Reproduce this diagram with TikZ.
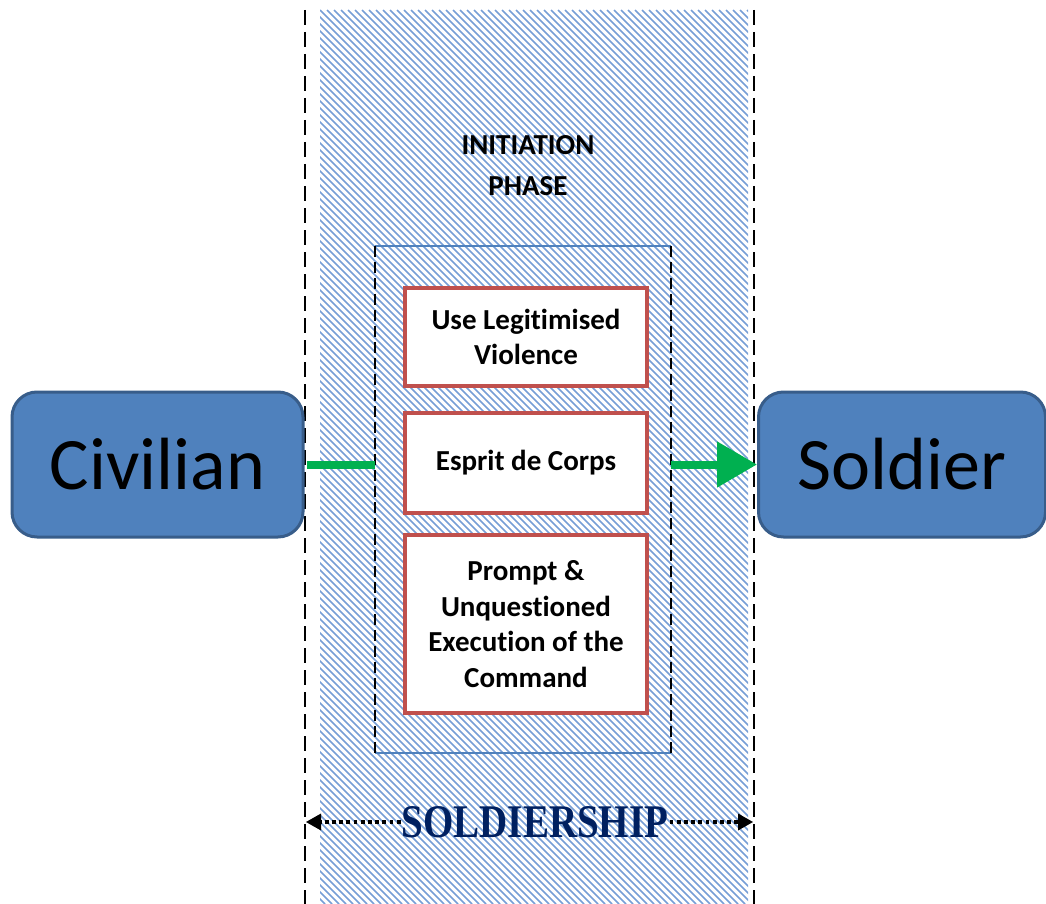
\documentclass[tikz,border=0pt]{standalone}
\usepackage{fontspec}
\usepackage{graphicx}
\setmainfont{Carlito}[Ligatures=NoCommon]
\newfontfamily\titleserif{Liberation Serif}
\usetikzlibrary{arrows.meta}
\definecolor{boxblue}{HTML}{4F81BD}
\definecolor{boxedge}{HTML}{385D8A}
\definecolor{redline}{HTML}{C0504D}
\definecolor{hatch}{RGB}{118,158,214}
\definecolor{arrowgreen}{HTML}{00B050}
\definecolor{navy}{HTML}{002060}
\tikzset{
  endbox/.style={draw=boxedge, line width=3pt, fill=boxblue, rounded corners=25pt,
    font=\fontsize{74}{80}\selectfont, inner sep=0pt},
  stagebox/.style={draw=redline, line width=4.5pt, fill=white, minimum width=242pt,
    align=center, inner sep=0pt, font=\bfseries\fontsize{29}{35.5}\selectfont},
  bandedge/.style={black, line width=2pt, dash pattern=on 15pt off 7pt},
  phaseedge/.style={black, line width=1.6pt, dash pattern=on 11pt off 5pt},
  phaserule/.style={boxblue, line width=1.6pt},
  flow/.style={arrowgreen, line width=8pt},
  span/.style={black, line width=3.8pt, dash pattern=on 3.8pt off 3.4pt,
    -{Triangle[length=15pt,width=17pt,line width=0pt]}},
}
\begin{document}
\begin{tikzpicture}[x=1pt,y=-1pt]
\useasboundingbox (0,0) rectangle (1046,904);

% hatched band
\begin{scope}
  \clip (320,10) rectangle (748,904);
  \foreach \k in {-910,-903,...,440}
    \draw[hatch, line width=1.7pt] (320+\k,10) -- (320+\k+894,904);
\end{scope}

% band borders
\draw[bandedge] (305,10) -- (305,904);
\draw[bandedge] (754,10) -- (754,904);

% phase heading
\node[font=\bfseries\fontsize{29}{41}\selectfont, align=center] (head) at (528,166)
  {INITIATION\\PHASE};

% phase frame
\node[minimum width=296pt, minimum height=507pt, inner sep=0pt] (phase) at (523,499.5) {};
\draw[phaserule] (phase.north west) -- (phase.north east);
\draw[phaserule] (phase.south west) -- (phase.south east);
\draw[phaseedge] (phase.north west) -- ([yshift=-4pt]phase.south west);
\draw[phaseedge] (phase.north east) -- ([yshift=-4pt]phase.south east);

% stages
\node[stagebox, minimum height=98pt] (violence) at (526,337) {Use Legitimised\\Violence};
\node[stagebox, minimum height=100pt] (corps) at (526,463) {Esprit de Corps};
\node[stagebox, minimum height=178pt] (command) at (526,624)
  {Prompt \&\\Unquestioned\\Execution of the\\Command};

% end states
\node[endbox, minimum width=291pt, minimum height=145pt] (civilian) at (157.5,464.5) {Civilian};
\node[endbox, minimum width=287pt, minimum height=145pt] (soldier) at (902,464.5) {Soldier};

% flow
\draw[flow] ([xshift=2pt]civilian.east) -- (civilian.east -| phase.west);
\draw[flow, -{Triangle[length=40pt,width=44pt]}] (phase.east |- soldier.west) -- (soldier.west);

% soldiership span
\node[font=\titleserif\bfseries\fontsize{39}{42}\selectfont, text=navy, inner sep=1pt]
  (ship) at (535,822) {\scalebox{1}[1.2]{SOLDIERSHIP}};
\coordinate (shipL) at (306,822);
\coordinate (shipR) at (753,822);
\draw[span] (ship.west) -- (shipL);
\draw[span] (ship.east) -- (shipR);
\end{tikzpicture}
\end{document}
